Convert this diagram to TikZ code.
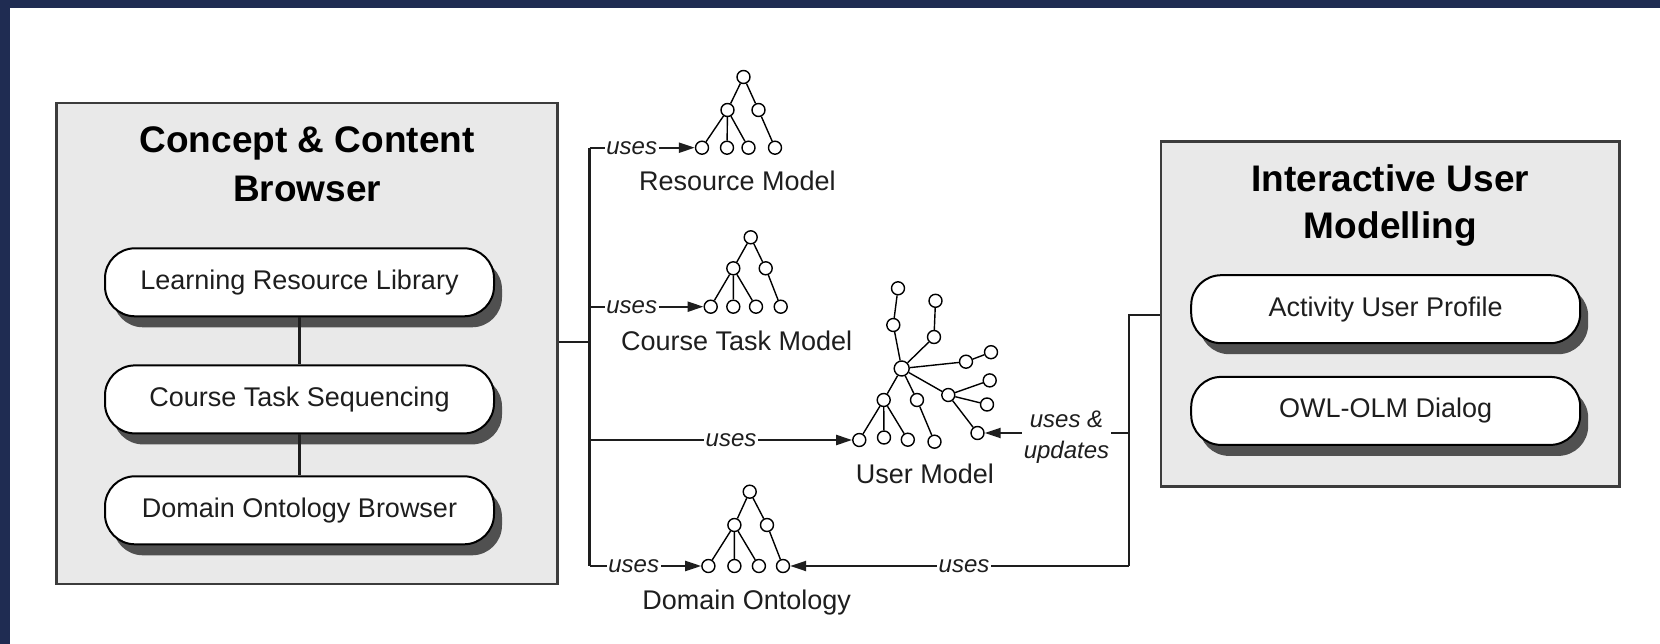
\documentclass[tikz,border=0pt]{standalone}
\usepackage{fontspec}
\setmainfont{Liberation Sans}
\usetikzlibrary{arrows.meta,shadows}
\definecolor{navy}{HTML}{1F2C52}
\definecolor{boxgray}{HTML}{E9E9E9}
\definecolor{edgegray}{HTML}{3C3C3C}
\definecolor{ink}{HTML}{1E1E1E}
\definecolor{shade}{HTML}{505050}
\begin{document}
\begin{tikzpicture}[x=1pt,y=-1pt,
  bigbox/.style={draw=edgegray, line width=2.5pt, fill=boxgray, inner sep=0pt,
    general shadow={draw=none, fill=black!55, shadow xshift=1.5pt, shadow yshift=-1.5pt}},
  ttl/.style={font=\fontsize{37}{44}\selectfont\bfseries, text=black, anchor=base, inner sep=0pt},
  pill/.style={draw=black, line width=2pt, fill=white, rounded corners=30pt,
    minimum width=389pt, minimum height=68pt, inner sep=0pt,
    font=\fontsize{27}{32}\selectfont, text=ink,
    general shadow={draw=none, fill=shade, shadow xshift=8pt, shadow yshift=-11pt}},
  tn/.style={circle, draw=black, line width=1.4pt, fill=white, minimum size=13pt, inner sep=0pt},
  tedge/.style={line width=1.4pt, draw=black},
  conn/.style={line width=2.2pt, draw=ink},
  arr/.style={conn, -{Triangle[length=16pt,width=10pt]}},
  useslbl/.style={font=\fontsize{24}{31}\selectfont\itshape, text=ink, fill=white, inner sep=1.5pt},
  lbl/.style={font=\fontsize{27}{32}\selectfont, text=ink, anchor=base, inner sep=0pt},
]
% page and frame
\fill[white] (0,0) rectangle (1660,644);
\fill[navy] (0,0) rectangle (1660,8);
\fill[navy] (0,0) rectangle (9.5,644);
\useasboundingbox (0,0) rectangle (1660,644);

% ---- Concept & Content Browser ----
\node[bigbox, minimum width=501pt, minimum height=481pt] (ccb) at (307.1,343.4) {};
\node[ttl] (ccbt1) at (307.1,153) {Concept \& Content};
\node[ttl] (ccbt2) at (307.1,202) {Browser};
\node[pill] (lrl) at (299.5,282.3) {Learning Resource Library};
\node[pill] (cts) at (299.5,399.4) {Course Task Sequencing};
\node[pill] (dob) at (299.5,510.3) {Domain Ontology Browser};
\draw[line width=3.2pt, draw=ink] (lrl.south) -- (cts.north);
\draw[line width=3.2pt, draw=ink] (cts.south) -- (dob.north);

% ---- Interactive User Modelling ----
\node[bigbox, minimum width=458.6pt, minimum height=345pt] (ium) at (1390.3,314.2) {};
\node[ttl] (iumt1) at (1390.3,192) {Interactive User};
\node[ttl] (iumt2) at (1390.3,239) {Modelling};
\node[pill] (aup) at (1385.7,309.2) {Activity User Profile};
\node[pill] (owl) at (1385.7,410.9) {OWL-OLM Dialog};

% ---- Resource Model tree ----
\node[tn] (ra) at (743.5,77) {};
\node[tn] (rb1) at (727.5,110) {};
\node[tn] (rb2) at (758.5,110) {};
\node[tn] (rc1) at (702,147.7) {};
\node[tn] (rc2) at (727,147.7) {};
\node[tn] (rc3) at (748.5,147.7) {};
\node[tn] (rc4) at (775,147.7) {};
\draw[tedge] (ra) -- (rb1) (ra) -- (rb2) (rb1) -- (rc1) (rb1) -- (rc2) (rb1) -- (rc3) (rb2) -- (rc4);
\node[lbl] (rmlbl) at (737.5,190.7) {Resource Model};

% ---- Course Task Model tree ----
\node[tn] (ta) at (750.7,237.3) {};
\node[tn] (tb1) at (733.3,268.3) {};
\node[tn] (tb2) at (765.7,268.3) {};
\node[tn] (tc1) at (710.7,306.7) {};
\node[tn] (tc2) at (733.3,306.7) {};
\node[tn] (tc3) at (756,306.7) {};
\node[tn] (tc4) at (780.7,306.7) {};
\draw[tedge] (ta) -- (tb1) (ta) -- (tb2) (tb1) -- (tc1) (tb1) -- (tc2) (tb1) -- (tc3) (tb2) -- (tc4);
\node[lbl] (ctmlbl) at (736.7,350) {Course Task Model};

% ---- User Model tree ----
\node[tn, minimum size=15pt] (uh) at (901.7,368.5) {};
\node[tn] (ut1) at (893.3,325) {};
\node[tn] (ut2) at (898,288.3) {};
\node[tn] (us1) at (934,337) {};
\node[tn] (us2) at (935.5,300.8) {};
\node[tn] (uq1) at (966,361.7) {};
\node[tn] (uq2) at (991,352.2) {};
\node[tn] (um) at (948.3,395) {};
\node[tn] (um1) at (989.7,380.4) {};
\node[tn] (um2) at (987,404.5) {};
\node[tn] (um3) at (977.5,433) {};
\node[tn] (ul) at (883.7,400) {};
\node[tn] (ul1) at (859.3,440) {};
\node[tn] (ul2) at (884,437.5) {};
\node[tn] (ul3) at (907.8,439.7) {};
\node[tn] (uk) at (917,400) {};
\node[tn] (uk1) at (934.5,441.7) {};
\draw[tedge] (uh) -- (ut1) (ut1) -- (ut2) (uh) -- (us1) (us1) -- (us2)
  (uh) -- (uq1) (uq1) -- (uq2) (uh) -- (um) (um) -- (um1) (um) -- (um2) (um) -- (um3)
  (uh) -- (ul) (ul) -- (ul1) (ul) -- (ul2) (ul) -- (ul3) (uh) -- (uk) (uk) -- (uk1);
\node[lbl] (umlbl) at (925,483.3) {User Model};

% ---- Domain Ontology tree ----
\node[tn] (da) at (749.7,491.7) {};
\node[tn] (db1) at (734.4,525) {};
\node[tn] (db2) at (767,525) {};
\node[tn] (dc1) at (708.4,566) {};
\node[tn] (dc2) at (734.4,566) {};
\node[tn] (dc3) at (758.9,566) {};
\node[tn] (dc4) at (783,566) {};
\draw[tedge] (da) -- (db1) (da) -- (db2) (db1) -- (dc1) (db1) -- (dc2) (db1) -- (dc3) (db2) -- (dc4);
\node[lbl] (dolbl) at (746.7,609) {Domain Ontology};

% ---- connectors from the browser ----
\coordinate (busT) at (589.5,147.7);
\coordinate (busJ) at (589.5,341.7);
\coordinate (busC) at (589.5,306.7);
\coordinate (busU) at (589.5,440);
\coordinate (busB) at (589.5,566);
\draw[conn] (ccb.east |- busJ) -- (busJ);
\draw[conn] (busT) -- (busB);
\draw[arr] (busT) -- (rc1);
\draw[arr] (busC) -- (tc1);
\draw[arr] (busU) -- (ul1);
\draw[arr] (busB) -- (dc1);
\node[useslbl] (u1) at (631.7,147.7) {uses};
\node[useslbl] (u2) at (631.7,306.7) {uses};
\node[useslbl] (u3) at (731,440) {uses};
\node[useslbl] (u4) at (633.7,566) {uses};

% ---- connectors from user modelling ----
\coordinate (rJ) at (1128.6,315);
\coordinate (rU) at (1128.6,433);
\coordinate (rB) at (1128.6,566);
\draw[conn] (ium.west |- rJ) -- (rJ) -- (rB);
\draw[arr] (rB) -- (dc4);
\draw[arr] (rU) -- (um3);
\node[useslbl] (u5) at (964,566) {uses};
\node[useslbl, align=center] (uupd) at (1066.5,437.5) {uses \&\\updates};
\end{tikzpicture}
\end{document}
